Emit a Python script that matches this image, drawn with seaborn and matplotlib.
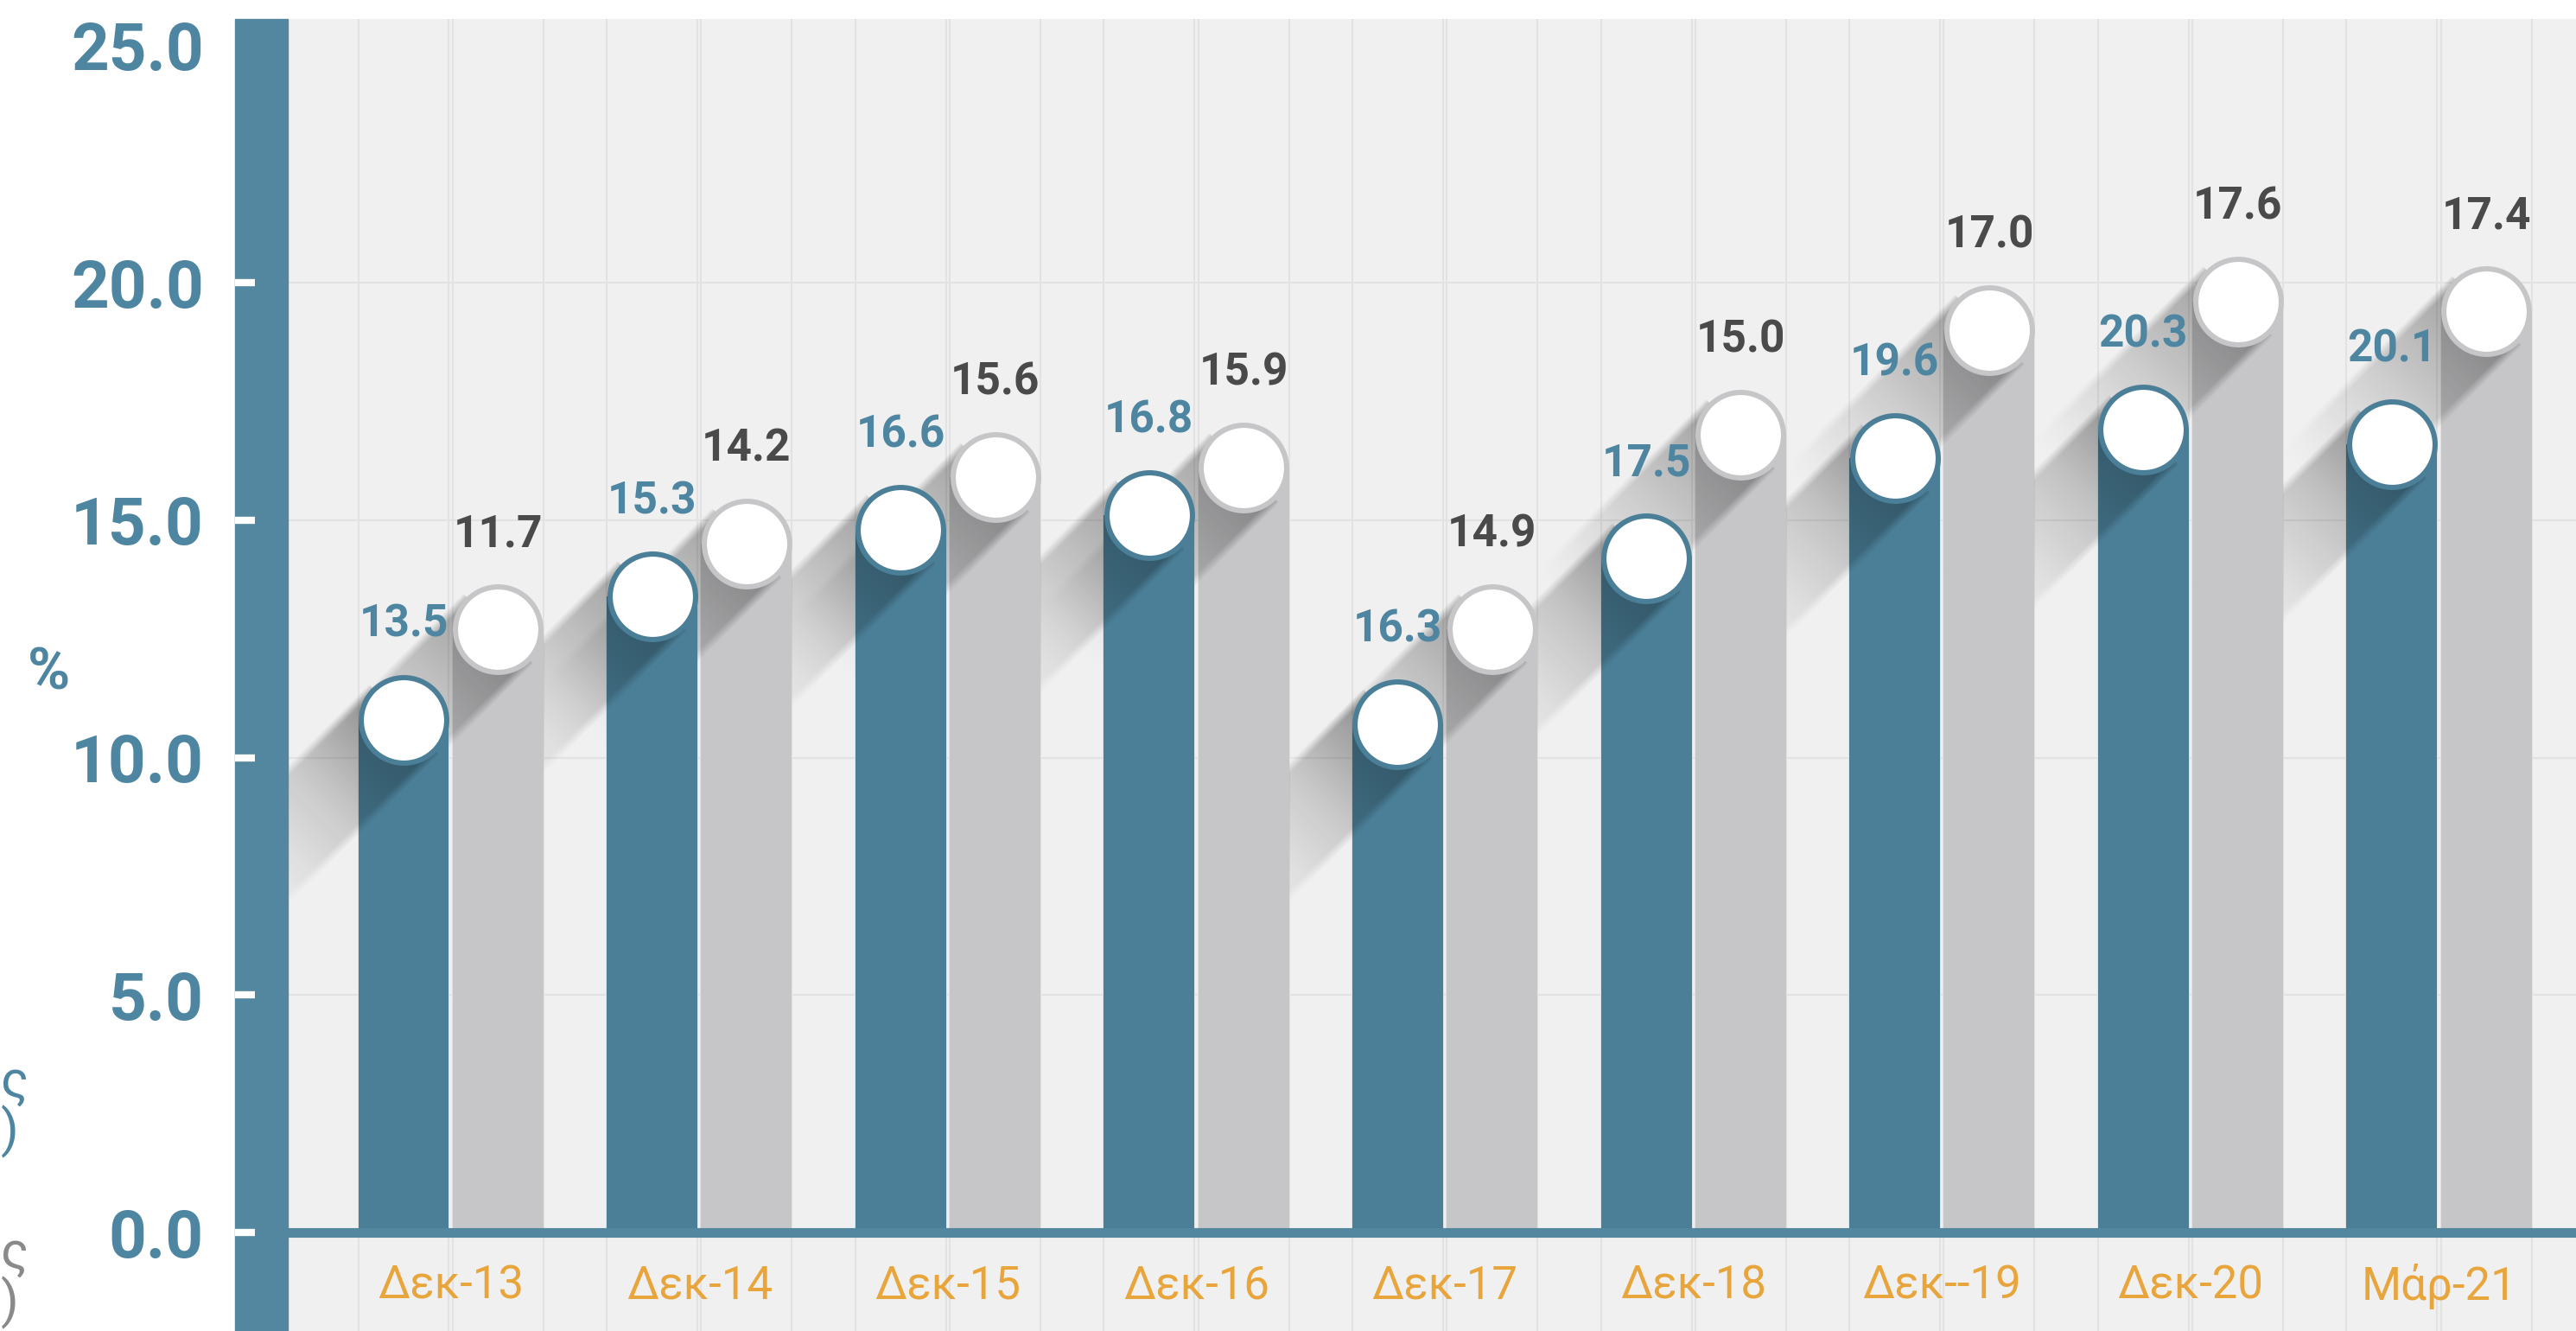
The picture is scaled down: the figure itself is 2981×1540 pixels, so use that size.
import numpy as np
import pandas as pd
import seaborn as sns
import matplotlib.pyplot as plt
from matplotlib.patches import Rectangle

# dados
periodos = ['Δεκ-13', 'Δεκ-14', 'Δεκ-15', 'Δεκ-16', 'Δεκ-17', 'Δεκ-18', 'Δεκ--19', 'Δεκ-20', 'Μάρ-21']
altura_azul = [10.8, 13.4, 14.8, 15.1, 10.7, 14.2, 16.3, 16.9, 16.6]
altura_cinza = [12.7, 14.5, 15.9, 16.1, 12.7, 16.8, 19.0, 19.6, 19.4]
rotulo_azul = ['13.5', '15.3', '16.6', '16.8', '16.3', '17.5', '19.6', '20.3', '20.1']
rotulo_cinza = ['11.7', '14.2', '15.6', '15.9', '14.9', '15.0', '17.0', '17.6', '17.4']
ticks_y = [0, 5, 10, 15, 20, 25]

AZUL = '#4b7f98'
AZUL_EIXO = '#53879f'
CINZA = '#c6c6c8'
FUNDO = '#f0f0f0'
LINHA = '#e2e2e2'
LARANJA = '#e8a53c'
CINZA_TXT = '#4a4a4a'
AZUL_TXT = '#4e86a2'

sns.set_theme(style='white')
plt.rcParams['font.family'] = ['Roboto', 'DejaVu Sans']

df = pd.DataFrame({'periodo': periodos * 2,
                   'valor': altura_azul + altura_cinza,
                   'serie': ['azul'] * len(periodos) + ['cinza'] * len(periodos)})

W, H = 2981, 1540
fig = plt.figure(figsize=(W / 100, H / 100), dpi=100)
ax = fig.add_axes([333 / W, 0, 1 - 333 / W, 1 - 22 / H])
ax.set_facecolor(FUNDO)

sns.barplot(data=df, x='periodo', y='valor', hue='serie', palette=[AZUL, CINZA],
            width=0.76, gap=0.04, saturation=1, errorbar=None, legend=False, ax=ax)
barras = sorted(ax.patches, key=lambda p: p.get_x())

XLIM = (-0.656, 8.551)
YLIM = (-2.07, 25.55)
ax.set_xlim(XLIM)
ax.set_ylim(YLIM)
for s in ax.spines.values():
    s.set_visible(False)
ax.set_xticks([])
ax.set_xlabel('')
ax.set_ylabel('')

# grelha
for v in ticks_y[1:-1]:
    ax.axhline(v, color=LINHA, lw=1.5, zorder=1)
for p in barras:
    ax.axvline(p.get_x(), color=LINHA, lw=1.5, zorder=1)
    ax.axvline(p.get_x() + p.get_width(), color=LINHA, lw=1.5, zorder=1)

# pixels por unidade no eixo x
ppu = ax.transData.transform((1, 0))[0] - ax.transData.transform((0, 0))[0]


def sombra(cx, h, raio, z, comp=290, forca=0.34):
    # sombra longa em gradiente, na diagonal para baixo/esquerda
    X0, Y0 = ax.transData.transform((cx, h))
    u = np.array([-1.0, -1.0]) / np.sqrt(2)
    nv = np.array([1.0, -1.0]) / np.sqrt(2)
    c0 = np.array([X0, Y0])
    cantos = np.array([c0 + raio * nv, c0 - raio * nv,
                       c0 + comp * u + raio * nv, c0 + comp * u - raio * nv])
    xmin, ymin = cantos.min(axis=0) - 15
    xmax, ymax = cantos.max(axis=0) + 15
    nx, ny = int(xmax - xmin), int(ymax - ymin)
    gx, gy = np.meshgrid(np.linspace(xmin, xmax, nx), np.linspace(ymin, ymax, ny))
    dx, dy = gx - X0, gy - Y0
    t = (dx * u[0] + dy * u[1]) / comp
    s = np.abs(dx * nv[0] + dy * nv[1])
    a = np.clip(1 - t, 0, 1) ** 1.3 * (t >= 0)
    a = a * np.clip((raio + 5 - s) / 10, 0, 1)
    rgba = np.zeros((ny, nx, 4))
    rgba[..., 3] = forca * a
    x0d, y0d = ax.transData.inverted().transform((xmin, ymin))
    x1d, y1d = ax.transData.inverted().transform((xmax, ymax))
    ax.imshow(rgba, extent=[x0d, x1d, y0d, y1d], origin='lower', aspect='auto',
              interpolation='bilinear', zorder=z)


rotulos = []
for i in range(len(periodos)):
    rotulos += [(rotulo_azul[i], AZUL_TXT), (rotulo_cinza[i], CINZA_TXT)]

n = len(barras)
for k, p in enumerate(barras):
    z = 10 + 5 * (n - 1 - k)
    p.set_zorder(z)
    p.set_linewidth(0)
    cx = p.get_x() + p.get_width() / 2
    h = p.get_height()
    cor = p.get_facecolor()
    larg_px = p.get_width() * ppu
    diam = larg_px * 72 / fig.dpi
    sombra(cx, h, larg_px / 2, z + 1)
    ax.plot(cx, h, 'o', ms=diam, color=cor, mew=0, zorder=z + 2)
    ax.plot(cx, h, 'o', ms=diam * 0.885, color='white', mew=0, zorder=z + 3)
    txt, c = rotulos[k]
    ax.annotate(txt, (cx, h), xytext=(0, 79), textcoords='offset points', ha='center',
                va='center', color=c, fontsize=37, fontweight='bold', zorder=400)

ax.set_xlim(XLIM)
ax.set_ylim(YLIM)

# linha do zero
ax.axhline(0, color=AZUL_EIXO, lw=8, zorder=500)

# rótulos do eixo x
for i, per in enumerate(periodos):
    ax.text(i, -1.13, per, ha='center', va='center', color=LARANJA, fontsize=38, zorder=500)

# eixo y
axw = W - 333
ax.add_patch(Rectangle((-61 / axw, 0), 61 / axw, 1, transform=ax.transAxes,
                       color=AZUL_EIXO, clip_on=False, zorder=600))
for v in ticks_y[:-1]:
    ax.plot([-61 / axw, -38 / axw], [v, v], transform=ax.get_yaxis_transform(),
            color='white', lw=6, clip_on=False, zorder=601, solid_capstyle='butt')
ax.set_yticks(ticks_y)
ax.set_yticklabels([f'{v:.1f}' for v in ticks_y])
ax.tick_params(axis='y', length=0, pad=70, labelsize=55, labelcolor=AZUL_TXT)
for t in ax.get_yticklabels():
    t.set_fontweight('bold')

fig.text(57 / W, 1 - 780 / H, '%', ha='center', va='center', color=AZUL_TXT,
         fontsize=48, fontweight='bold')

# texto cortado à esquerda
fig.text(1 / W, 1 - 1282 / H, 'ς\n)', ha='left', va='center', color=AZUL_TXT,
         fontsize=43, linespacing=0.95)
fig.text(1 / W, 1 - 1480 / H, 'ς\n)', ha='left', va='center', color='#8a8a8a',
         fontsize=43, linespacing=0.95)

fig.savefig('out.png', dpi=100)
